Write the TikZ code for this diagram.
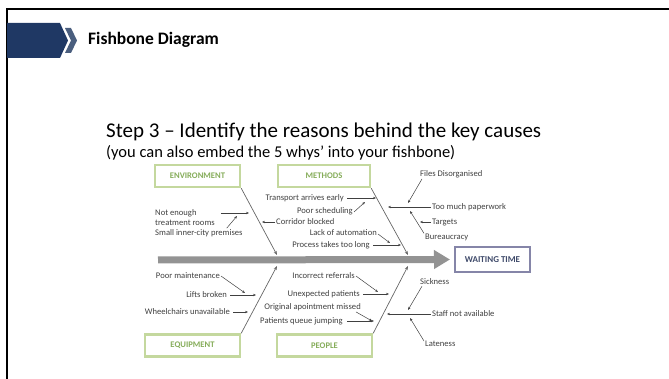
\documentclass[tikz,border=0pt]{standalone}
\usepackage{fontspec}
\setmainfont{Carlito}
\usetikzlibrary{arrows.meta}
\definecolor{navy}{HTML}{1F3864}
\definecolor{slate}{HTML}{4A5E7E}
\definecolor{boxgreen}{HTML}{C4D89E}
\definecolor{labgreen}{HTML}{86AD5A}
\definecolor{boxpurple}{HTML}{8585A8}
\definecolor{labpurple}{HTML}{3F4A6A}
\definecolor{txtgray}{HTML}{404040}
\tikzset{
  catbox/.style={draw=boxgreen, line width=2.4pt, fill=white, minimum height=22pt,
    text=labgreen, font=\bfseries\fontsize{8.6}{9}\selectfont},
  cause/.style={text=txtgray, inner sep=1pt, font=\fontsize{8.6}{9.5}\selectfont},
  arr/.style={draw=txtgray, line width=0.5pt, -{Stealth[length=3pt,width=2.4pt]}},
  bone/.style={draw=txtgray!80, line width=0.7pt, -{Stealth[length=4pt,width=3pt]}}
}
\begin{document}
\begin{tikzpicture}[x=1pt,y=-1pt]
  \useasboundingbox (0,0) rectangle (669,379);
  \draw[line width=2.5pt] (669,9) -- (7,9) -- (7,379);
  \fill[navy] (7,23) -- (60,23) -- (68,40.5) -- (60,58) -- (7,58) -- cycle;
  \fill[slate] (65,28) -- (71,28) -- (77,40.5) -- (71,53) -- (65,53) -- (71,40.5) -- cycle;
  \node[anchor=west, font=\bfseries\fontsize{17.5}{20}\selectfont, inner sep=0pt] (title) at (88,40) {Fishbone Diagram};
  \node[anchor=west, font=\fontsize{21}{24}\selectfont, inner sep=0pt] (step) at (106,132)
    {Step 3 -- Identify the reasons behind the key causes};
  \node[anchor=west, font=\fontsize{16.5}{18}\selectfont, inner sep=0pt] (sub) at (106,153)
    {(you can also embed the 5 whys' into your fishbone)};

  % spine and effect
  \node[draw=boxpurple, line width=2pt, minimum width=75pt, minimum height=25pt,
    text=labpurple, font=\bfseries\fontsize{9}{10}\selectfont] (wait) at (492.5,259.5) {WAITING TIME};
  \coordinate (spineL) at (158,260);
  \draw[draw=gray!85, line width=7pt, -{Triangle[length=16pt,width=18pt]}, shorten >=4pt] (spineL) -- (wait.west);

  % categories
  \node[catbox, minimum width=85pt] (env) at (197.5,176) {ENVIRONMENT};
  \node[catbox, minimum width=92pt] (meth) at (324,176) {METHODS};
  \node[catbox, minimum width=95pt] (equip) at (192.5,345.5) {EQUIPMENT};
  \node[catbox, minimum width=95pt] (people) at (324.5,345.5) {PEOPLE};
  \coordinate (sp1) at (277,255);
  \coordinate (sp2) at (408,255);
  \coordinate (sp3) at (277,266);
  \coordinate (sp4) at (408,266);
  \draw[bone] (env.south east) -- (sp1);
  \draw[bone] (meth.south east) -- (sp2);
  \draw[bone] (equip.north east) -- (sp3);
  \draw[bone] (people.north east) -- (sp4);

  % environment
  \node[cause, anchor=west, align=left] (e1) at (154,217.5) {Not enough\\treatment rooms};
  \node[cause, anchor=west] (e2) at (154,233) {Small inner-city premises};
  \coordinate (e1t) at (249,213);
  \coordinate (e2t) at (237,216);
  \draw[arr, shorten <=5pt] (e1.east |- e1t) -- (e1t);
  \draw[arr] ([xshift=-17pt]e2.north east) -- (e2t);

  % methods
  \node[cause, anchor=east] (m1) at (345,198) {Transport arrives early};
  \node[cause, anchor=east] (m2) at (354,211) {Poor scheduling};
  \node[cause, anchor=west] (m3) at (275,222) {Corridor blocked};
  \node[cause, anchor=east] (m4) at (378,233) {Lack of automation};
  \node[cause, anchor=east] (m5) at (371,245) {Process takes too long};
  \coordinate (m1t) at (376,198);
  \coordinate (m2t) at (365,202);
  \coordinate (m3t) at (262,222);
  \coordinate (m4t) at (390,243);
  \coordinate (m5t) at (401,245);
  \draw[arr, shorten <=2pt] (m1.east) -- (m1t);
  \draw[arr] ([yshift=-1pt]m2.east) -- (m2t);
  \draw[arr] (m3.west) -- (m3t);
  \draw[arr] ([yshift=-1pt]m4.east) -- (m4t);
  \draw[arr, shorten <=2pt] (m5.east) -- (m5t);

  % paperwork
  \node[cause, anchor=west] (r0) at (419,174) {Files Disorganised};
  \node[cause, anchor=west] (r1) at (431,207) {Too much paperwork};
  \node[cause, anchor=west] (r2) at (431,222) {Targets};
  \node[cause, anchor=west] (r3) at (424,237) {Bureaucracy};
  \coordinate (r0t) at (408,203);
  \coordinate (r1t) at (388,207);
  \coordinate (r2t) at (420,222);
  \coordinate (r3t) at (410,211);
  \draw[arr] ([xshift=3pt]r0.south west) -- (r0t);
  \draw[arr] (r1.west) -- (r1t);
  \draw[arr] (r2.west) -- (r2t);
  \draw[arr] ([yshift=-1pt]r3.north west) -- (r3t);

  % equipment
  \node[cause, anchor=east] (q1) at (221,276) {Poor maintenance};
  \node[cause, anchor=east] (q2) at (228,295) {Lifts broken};
  \node[cause, anchor=east] (q3) at (231,312) {Wheelchairs unavailable};
  \coordinate (q1t) at (245,293);
  \coordinate (q2t) at (256,295);
  \coordinate (q3t) at (248,312);
  \draw[arr] (q1.east) -- (q1t);
  \draw[arr, shorten <=2pt] (q2.east) -- (q2t);
  \draw[arr, shorten <=2pt] (q3.east) -- (q3t);

  % people
  \node[cause, anchor=east] (p1) at (356,276) {Incorrect referrals};
  \node[cause, anchor=east] (p2) at (361,294) {Unexpected patients};
  \node[cause, anchor=east] (p3) at (362,307) {Original apointment missed};
  \node[cause, anchor=east] (p4) at (344,321) {Patients queue jumping};
  \coordinate (p1t) at (378,292);
  \coordinate (p2t) at (389,294);
  \coordinate (p3t) at (372,321);
  \coordinate (p4t) at (374,321);
  \draw[arr] (p1.east) -- (p1t);
  \draw[arr, shorten <=2pt] (p2.east) -- (p2t);
  \draw[arr] ([xshift=-6pt]p3.south east) -- (p3t);
  \draw[arr, shorten <=3pt] (p4.east) -- (p4t);

  % staff
  \node[cause, anchor=west] (s0) at (419,282) {Sickness};
  \node[cause, anchor=west] (s1) at (431,314) {Staff not available};
  \node[cause, anchor=west] (s2) at (424,344) {Lateness};
  \coordinate (s0t) at (408,310);
  \coordinate (s1t) at (387,314);
  \coordinate (s2t) at (410,318);
  \draw[arr] ([xshift=3pt]s0.south west) -- (s0t);
  \draw[arr] (s1.west) -- (s1t);
  \draw[arr] ([yshift=-1pt]s2.north west) -- (s2t);
\end{tikzpicture}
\end{document}
